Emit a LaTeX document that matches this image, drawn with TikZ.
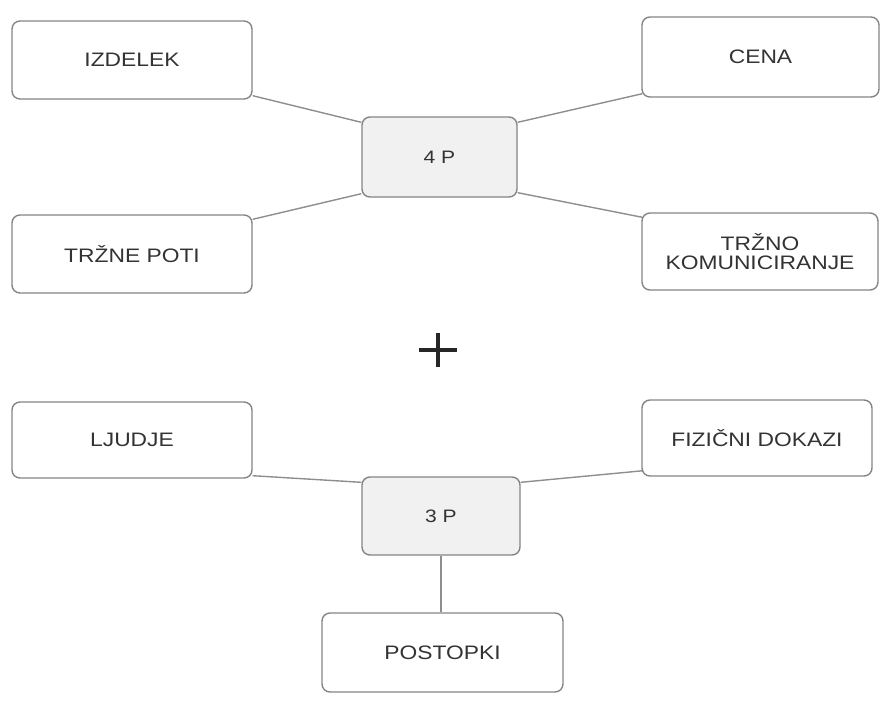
\documentclass[tikz,border=0pt]{standalone}
\usepackage{fontspec}
\setmainfont{Liberation Sans}[FakeStretch=1.17]
\usetikzlibrary{calc}
\definecolor{boxline}{HTML}{858585}
\definecolor{connline}{HTML}{8E8E8E}
\definecolor{txt}{HTML}{333333}
\definecolor{hubfill}{HTML}{F1F1F1}
\tikzset{
  leaf/.style={draw=boxline, line width=1.4pt, rounded corners=8pt, fill=white,
    text=txt, font=\fontsize{19.5}{19}\selectfont, align=center, inner sep=0pt},
  hub/.style={leaf, fill=hubfill, font=\fontsize{18}{19}\selectfont},
  conn/.style={draw=connline, line width=1.4pt},
}
\begin{document}
\begin{tikzpicture}[x=1pt,y=1pt]
\useasboundingbox (0,0) rectangle (881,-702);
% top group
\node[leaf, minimum width=240, minimum height=78] (izd) at (132,-60) {IZDELEK};
\node[leaf, minimum width=237, minimum height=80] (cena) at (760.5,-57) {CENA};
\node[hub, minimum width=155, minimum height=80] (p4) at (439.5,-157) {4 P};
\node[leaf, minimum width=240, minimum height=78] (poti) at (132,-254) {TRŽNE POTI};
\node[leaf, minimum width=236, minimum height=77] (kom) at (760,-251.5) {TRŽNO\\KOMUNICIRANJE};
\draw[conn] ([yshift=4]izd.south east) -- ([yshift=-6]p4.north west);
\draw[conn] ([yshift=4,xshift=1]cena.south west) -- ([yshift=-6]p4.north east);
\draw[conn] ([yshift=-5]poti.north east) -- ([yshift=4]p4.south west);
\draw[conn] ([yshift=5]p4.south east) -- ([yshift=-5,xshift=1]kom.north west);
% plus
\node[inner sep=0pt, minimum size=38] (plus) at (438,-350) {};
\draw[line width=3.5pt, color=black!85] (plus.west) -- (plus.east);
\draw[line width=3.5pt, color=black!85] ([yshift=-2]plus.north) -- ([yshift=2]plus.south);
% bottom group
\node[leaf, minimum width=240, minimum height=76] (lju) at (132,-440) {LJUDJE};
\node[leaf, minimum width=230, minimum height=76] (fiz) at (757,-438) {FIZIČNI DOKAZI};
\node[hub, minimum width=158, minimum height=78] (p3) at (441,-516) {3 P};
\node[leaf, minimum width=241, minimum height=79] (post) at (442.5,-652.5) {POSTOPKI};
\draw[conn] ([yshift=3]lju.south east) -- ([yshift=-6]p3.north west);
\draw[conn] ([yshift=6,xshift=2]fiz.south west) -- ([yshift=-6]p3.north east);
\draw[conn] (p3.south) -- (p3.south |- post.north);
\end{tikzpicture}
\end{document}
